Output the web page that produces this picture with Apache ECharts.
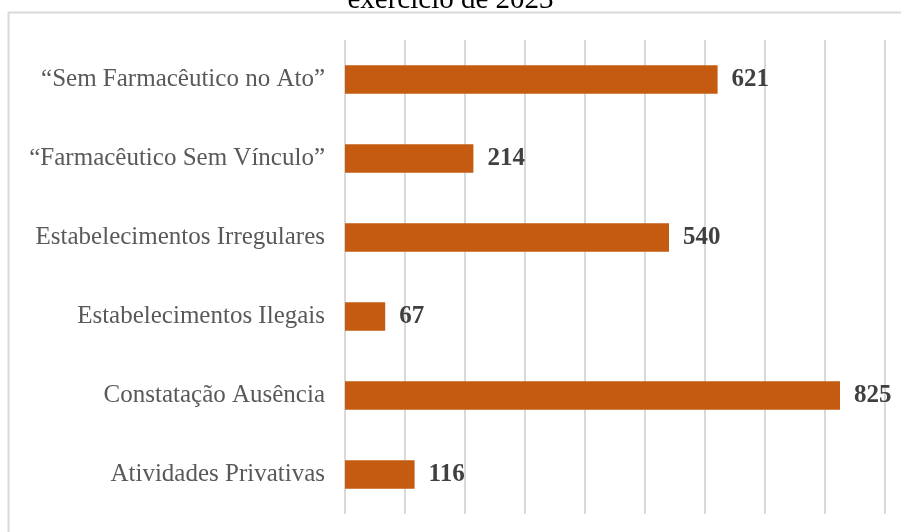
<!DOCTYPE html>
<html>
<head>
<meta charset="utf-8">
<script src="https://cdn.jsdelivr.net/npm/echarts@6/dist/echarts.min.js"></script>
<style>
  html, body { margin: 0; padding: 0; background: #fff; }
  #main { width: 901px; height: 532px; }
</style>
</head>
<body>
<div id="main"></div>
<script>
// categorias de baixo para cima (eixo y de categoria)
var categories = [
  'Atividades Privativas',
  'Constatação Ausência',
  'Estabelecimentos Ilegais',
  'Estabelecimentos Irregulares',
  '\u201CFarmacêutico Sem Vínculo\u201D',
  '\u201CSem Farmacêutico no Ato\u201D'
]
var values = [116, 825, 67, 540, 214, 621]
var titleText = 'exercício de 2023'

var chart = echarts.init(document.getElementById('main'))
chart.setOption({
  animation: false,
  title: {
    text: titleText,
    left: 'center',
    top: -19,
    textStyle: {
      fontFamily: 'Liberation Serif',
      fontWeight: 'normal',
      fontSize: 29,
      color: '#000'
    }
  },
  graphic: [{
    type: 'rect',
    shape: { x: 8.5, y: 12.5, width: 1000, height: 1000 },
    style: { fill: 'none', stroke: '#d9d9d9', lineWidth: 2 },
    silent: true
  }],
  grid: {
    left: 345,
    right: 16,
    top: 40,
    bottom: 18
  },
  xAxis: {
    type: 'value',
    min: 0,
    max: 900,
    interval: 100,
    axisLine: { show: false },
    axisTick: { show: false },
    axisLabel: { show: false },
    splitLine: { lineStyle: { color: '#d9d9d9', width: 2 } }
  },
  yAxis: {
    type: 'category',
    data: categories,
    axisLine: { show: false },
    axisTick: { show: false },
    axisLabel: {
      margin: 20,
      fontFamily: 'Liberation Serif',
      fontSize: 25,
      color: '#595959'
    }
  },
  series: [{
    type: 'bar',
    data: values,
    barCategoryGap: '64%',
    itemStyle: { color: '#C55A11' },
    label: {
      show: true,
      position: 'right',
      distance: 14,
      fontFamily: 'Liberation Serif',
      fontWeight: 'bold',
      fontSize: 25,
      color: '#404040'
    }
  }]
})
</script>
</body>
</html>
